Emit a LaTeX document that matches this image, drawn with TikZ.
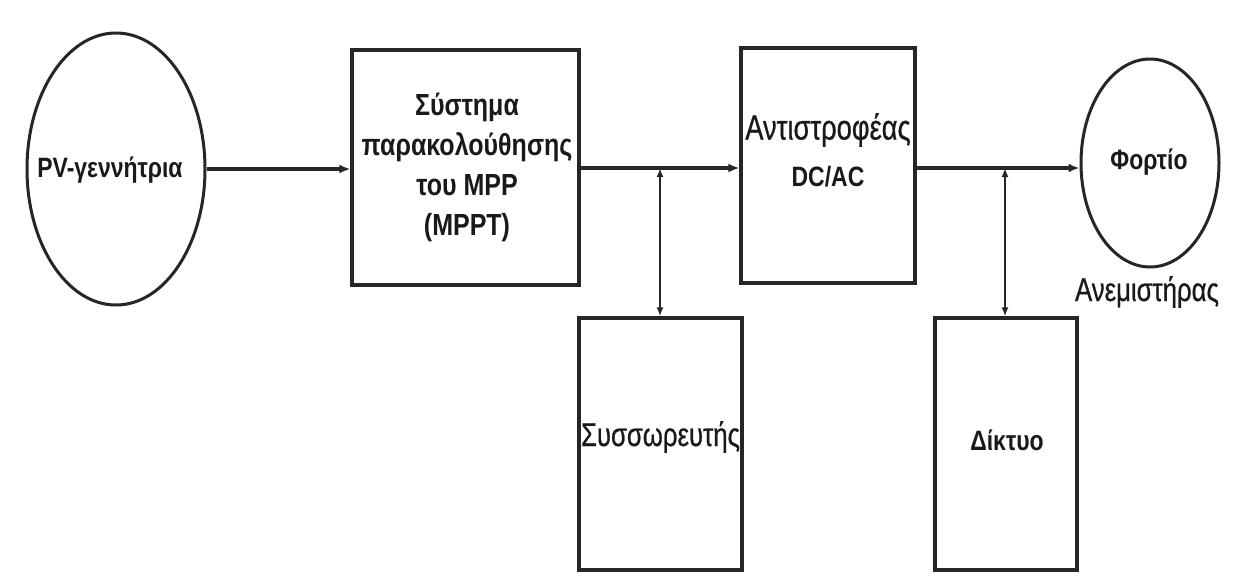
\documentclass[tikz,border=0pt]{standalone}
\usepackage{fontspec}
\setmainfont{Liberation Sans}
\newfontfamily\nb{Liberation Sans}[FakeStretch=0.82]
\newfontfamily\nr{Liberation Sans}[FakeStretch=0.78,FakeBold=0.6]
\usetikzlibrary{arrows.meta,shapes.geometric}
\begin{document}
\begin{tikzpicture}[x=1pt,y=-1pt,
  blk/.style={draw=black!85,line width=3.2pt,inner sep=0pt,rectangle},
  ell/.style={draw=black!85,line width=3pt,ellipse,inner sep=0pt},
  bt/.style={font=\nb\bfseries\fontsize{28}{40}\selectfont,align=center,text=black!90},
  rt/.style={font=\nr\fontsize{33}{40}\selectfont,align=center,text=black!90},
  flow/.style={line width=3.5pt,draw=black!85,-{Latex[length=11pt,width=9pt]}},
  dbl/.style={line width=2.2pt,draw=black!85,{Latex[length=9pt,width=7pt]}-{Latex[length=9pt,width=7pt]}}]
\useasboundingbox[fill=white] (0,0) rectangle (1234,581);
\node[ell,minimum width=178pt,minimum height=272pt] (pv) at (116,169) {};
\node[bt] (pvt) at (110,170) {PV-γεννήτρια};
\node[blk,minimum width=227pt,minimum height=235pt] (mppt) at (465.5,167.5) {};
\node[bt,font=\nb\bfseries\fontsize{30.5}{40}\selectfont] (mpptt) at (467,167) {Σύστημα\\παρακολούθησης\\του MPP\\(MPPT)};
\node[blk,minimum width=174pt,minimum height=235pt] (inv) at (828,165.5) {};
\node[rt,font=\nr\fontsize{35}{48}\selectfont] (invt) at (828,130) {Αντιστροφέας};
\node[bt] (invt2) at (828,177) {DC/AC};
\node[blk,minimum width=163pt,minimum height=252pt] (bat) at (660.5,444) {};
\node[rt] (batt) at (660.5,437) {Συσσωρευτής};
\node[blk,minimum width=142pt,minimum height=252pt] (grid) at (1006,444) {};
\node[bt] (gridt) at (1007,440) {Δίκτυο};
\node[ell,minimum width=138pt,minimum height=208pt] (load) at (1150,163) {};
\node[bt] (loadt) at (1149,162) {Φορτίο};
\node[rt] (fan) at (1147,292) {Ανεμιστήρας};
\coordinate (j1) at (660,168);
\coordinate (j2) at (1005,168);
\draw[flow] (pv.east) -- (pv.east -| mppt.west);
\draw[flow] (mppt.east |- j1) -- (j1 -| inv.west);
\draw[flow] (inv.east |- j2) -- (load.west |- j2);
\draw[dbl] (j1) -- (j1 |- bat.north);
\draw[dbl] (j2) -- (j2 |- grid.north);
\end{tikzpicture}
\end{document}
